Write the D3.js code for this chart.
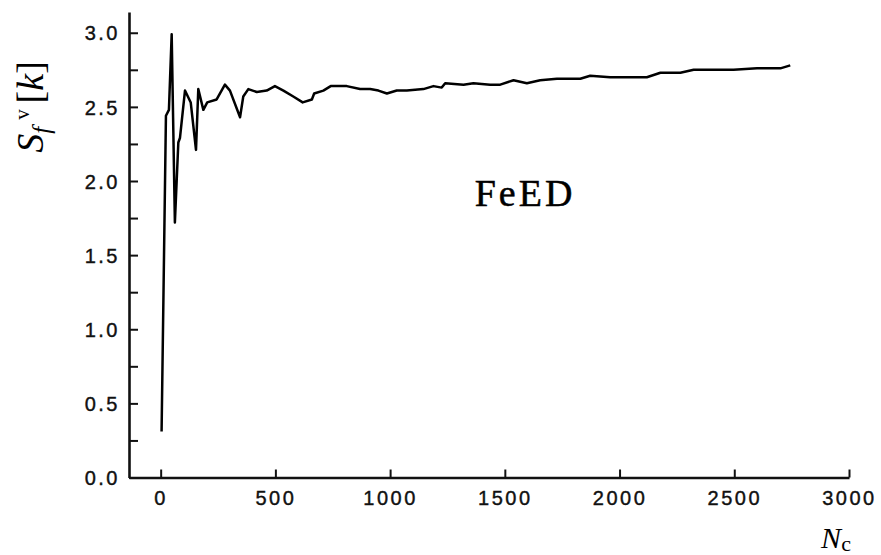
<!DOCTYPE html>
<html>
<head>
<meta charset="utf-8">
<script src="https://cdn.jsdelivr.net/npm/d3@7"></script>
<style>
  html, body { margin: 0; padding: 0; background: #fff; }
  svg { display: block; }
  .tick text { font-family: "Liberation Sans", Arial, sans-serif; font-size: 20px; letter-spacing: 2.5px; fill: #111; stroke: #111; stroke-width: 0.4px; }
</style>
</head>
<body>
<svg id="chart" width="881" height="555"></svg>
<script>
// Nc values and S_f^v[k]
const nc = [4, 23, 36, 48, 62, 77, 84, 106, 131, 154, 164, 186, 203, 244, 280, 302, 346, 360, 382, 419,
  462, 498, 535, 578, 619, 659, 669, 709, 741, 811, 869, 913, 949, 986, 1029, 1073, 1145, 1189,
  1225, 1240, 1320, 1363, 1436, 1480, 1538, 1596, 1654, 1727, 1829, 1872, 1959,
  1989, 2119, 2178, 2265, 2323, 2410, 2497, 2599, 2701, 2744];
const sfv = [0.31, 2.44, 2.48, 2.99, 1.72, 2.26, 2.29, 2.61, 2.53, 2.21, 2.62, 2.48, 2.53, 2.55, 2.65, 2.61, 2.43, 2.57, 2.62, 2.60,
  2.61, 2.64, 2.61, 2.57, 2.53, 2.55, 2.59, 2.61, 2.64, 2.64, 2.62, 2.62, 2.61, 2.59, 2.61, 2.61, 2.62, 2.64,
  2.63, 2.66, 2.65, 2.66, 2.65, 2.65, 2.68, 2.66, 2.68, 2.69, 2.69, 2.71, 2.70,
  2.70, 2.70, 2.73, 2.73, 2.75, 2.75, 2.75, 2.76, 2.76, 2.78];
const xTicks = [0, 500, 1000, 1500, 2000, 2500, 3000];
const yTicks = [0, 0.5, 1.0, 1.5, 2.0, 2.5, 3.0];
const yMinor = [0.25, 0.75, 1.25, 1.75, 2.25, 2.75];

const svg = d3.select("#chart");

const x = d3.scaleLinear().domain([-138, 3000]).range([129, 849]);
const y = d3.scaleLinear().domain([0, 3.14]).range([477.5, 12]);

// x axis, ticks pointing up into the plot
svg.append("g")
  .attr("transform", "translate(0," + y(0) + ")")
  .call(d3.axisBottom(x).tickValues(xTicks).tickSizeInner(-8).tickSizeOuter(0).tickPadding(13)
    .tickFormat(d3.format("d")))
  .call(g => g.select(".domain").attr("stroke", "#111").attr("stroke-width", 2.6))
  .call(g => g.selectAll(".tick line").attr("stroke", "#111").attr("stroke-width", 2));

// y axis, ticks pointing right
svg.append("g")
  .attr("transform", "translate(" + x(-138) + ",0)")
  .call(d3.axisLeft(y).tickValues(yTicks).tickSizeInner(-9).tickSizeOuter(0).tickPadding(9)
    .tickFormat(d3.format(".1f")))
  .call(g => g.select(".domain").attr("stroke", "#111").attr("stroke-width", 2.6))
  .call(g => g.selectAll(".tick line").attr("stroke", "#111").attr("stroke-width", 2))
  .call(g => g.selectAll(".tick text").attr("dy", "0.36em"));

svg.append("g")
  .attr("transform", "translate(" + x(-138) + ",0)")
  .call(d3.axisLeft(y).tickValues(yMinor).tickSizeInner(-9).tickSizeOuter(0).tickFormat(""))
  .call(g => g.select(".domain").remove())
  .call(g => g.selectAll(".tick line").attr("stroke", "#111").attr("stroke-width", 2));

// the curve
const line = d3.line()
  .x((d, i) => x(nc[i]))
  .y(d => y(d));

svg.append("path")
  .datum(sfv)
  .attr("d", line)
  .attr("fill", "none")
  .attr("stroke", "#000")
  .attr("stroke-width", 2.5)
  .attr("stroke-linejoin", "round");

// label inside the plot
svg.append("text")
  .attr("x", 525)
  .attr("y", 206)
  .attr("text-anchor", "middle")
  .attr("font-family", "'Liberation Serif', 'Times New Roman', serif")
  .attr("font-size", 38)
  .attr("letter-spacing", 3)
  .attr("fill", "#000")
  .attr("stroke", "#000")
  .attr("stroke-width", 0.5)
  .text("FeED");

// y axis title: S_f^v [k]
const yt = svg.append("text")
  .attr("transform", "translate(43,107) rotate(-90)")
  .attr("text-anchor", "middle")
  .attr("font-family", "'Liberation Serif', 'Times New Roman', serif")
  .attr("font-size", 38)
  .attr("fill", "#000");
yt.append("tspan").style("font-style", "italic").text("S");
yt.append("tspan").style("font-style", "italic").attr("font-size", 25).attr("dy", 7).text("f");
yt.append("tspan").attr("font-size", 21).attr("dy", -21).attr("dx", 7).text("v");
yt.append("tspan").attr("dy", 14).attr("dx", 6).text("[");
yt.append("tspan").style("font-style", "italic").text("k");
yt.append("tspan").text("]");

// x axis title: N_c
const xt = svg.append("text")
  .attr("x", 836)
  .attr("y", 548)
  .attr("text-anchor", "middle")
  .attr("font-family", "'Liberation Serif', 'Times New Roman', serif")
  .attr("font-size", 30)
  .attr("fill", "#000");
xt.append("tspan").style("font-style", "italic").text("N");
xt.append("tspan").attr("font-size", 22).attr("dy", 3).text("c");
</script>
</body>
</html>
